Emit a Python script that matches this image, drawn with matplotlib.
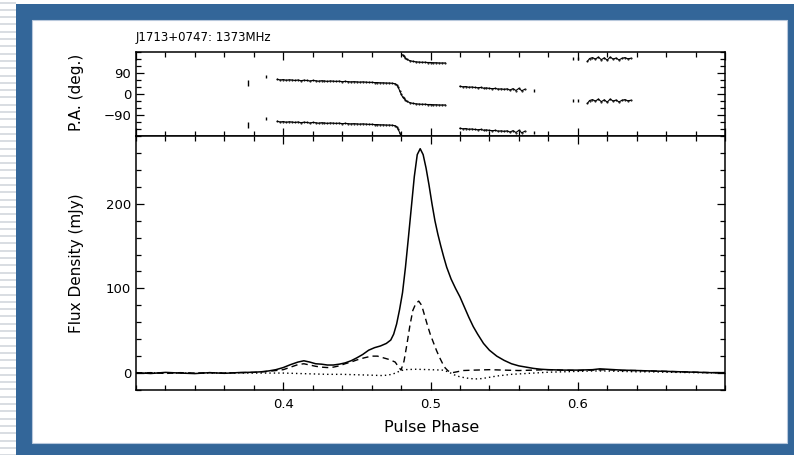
import numpy as np
import matplotlib
matplotlib.use("Agg")
import matplotlib.pyplot as plt
from matplotlib.patches import Rectangle
from matplotlib.ticker import MultipleLocator

plt.rcParams['font.family'] = ['DejaVu Sans']

# ---------------- data ----------------
title = "J1713+0747: 1373MHz"

# Total intensity (solid)
i_phase = [0.300, 0.310, 0.320, 0.330, 0.340, 0.350, 0.360, 0.370, 0.380, 0.385,
           0.390, 0.395, 0.400, 0.405, 0.410, 0.414, 0.418, 0.422, 0.426, 0.430,
           0.434, 0.438, 0.442, 0.446, 0.450, 0.454, 0.458, 0.462, 0.466, 0.470,
           0.473, 0.475, 0.477, 0.479, 0.481, 0.483, 0.485, 0.487, 0.489, 0.491,
           0.493, 0.495, 0.497, 0.499, 0.501, 0.503, 0.505, 0.507, 0.509, 0.511,
           0.514, 0.517, 0.520, 0.523, 0.526, 0.529, 0.532, 0.536, 0.540, 0.545,
           0.550, 0.555, 0.560, 0.565, 0.570, 0.575, 0.580, 0.590, 0.600, 0.610,
           0.615, 0.620, 0.630, 0.640, 0.650, 0.660, 0.670, 0.680, 0.690, 0.700]
i_flux = [0.5, -0.5, 0.8, 0.0, -0.6, 0.5, -0.3, 0.6, 1.0, 1.5,
          2.5, 4.0, 6.5, 10.0, 13.0, 14.5, 13.0, 11.0, 10.5, 9.5,
          9.5, 10.5, 12.0, 14.5, 18.0, 22.0, 27.0, 30.0, 32.0, 35.0,
          39.0, 46.0, 58.0, 75.0, 95.0, 125.0, 160.0, 196.0, 232.0, 258.0,
          265.0, 258.0, 242.0, 222.0, 200.0, 180.0, 164.0, 150.0, 137.0, 125.0,
          111.0, 100.0, 90.0, 78.0, 66.0, 55.0, 46.0, 35.0, 27.0, 20.0,
          15.0, 11.0, 8.5, 7.0, 5.5, 4.5, 4.0, 3.5, 3.5, 4.0,
          5.0, 4.5, 3.5, 3.0, 2.5, 2.0, 1.5, 1.0, 0.5, 0.5]

# Linear polarisation (dashed)
l_phase = [0.300, 0.310, 0.320, 0.330, 0.340, 0.350, 0.360, 0.370, 0.380, 0.390,
           0.400, 0.405, 0.410, 0.414, 0.418, 0.422, 0.426, 0.430, 0.434, 0.438,
           0.442, 0.446, 0.450, 0.455, 0.460, 0.464, 0.468, 0.472, 0.476, 0.478,
           0.480, 0.482, 0.484, 0.486, 0.488, 0.490, 0.492, 0.494, 0.496, 0.498,
           0.500, 0.502, 0.504, 0.506, 0.508, 0.510, 0.512, 0.515, 0.518, 0.522,
           0.530, 0.540, 0.550, 0.560, 0.570, 0.580, 0.590, 0.600, 0.610, 0.620,
           0.630, 0.640, 0.650, 0.660, 0.670, 0.680, 0.690, 0.700]
l_flux = [0.0, 0.5, -0.5, 0.5, 0.0, 0.5, 0.0, 0.5, 0.8, 2.0,
          4.0, 7.0, 10.0, 11.0, 9.5, 8.0, 7.0, 6.5, 7.0, 8.5,
          11.0, 13.0, 15.5, 18.0, 20.0, 20.0, 18.0, 16.0, 13.0, 8.0,
          3.5, 14.0, 34.0, 56.0, 74.0, 82.0, 85.0, 80.0, 68.0, 56.0,
          45.0, 36.0, 27.0, 19.0, 12.0, 6.0, 2.5, 0.5, 1.5, 3.0,
          3.5, 4.0, 3.5, 3.0, 3.5, 4.0, 3.5, 3.0, 3.5, 4.0,
          3.0, 3.0, 2.5, 2.0, 1.5, 1.0, 0.5, 0.5]

# Circular polarisation (dotted)
v_phase = [0.300, 0.320, 0.340, 0.360, 0.380, 0.400, 0.410, 0.420, 0.430, 0.440,
           0.450, 0.460, 0.468, 0.474, 0.478, 0.482, 0.490, 0.500, 0.508, 0.512,
           0.516, 0.520, 0.525, 0.530, 0.535, 0.540, 0.545, 0.550, 0.555, 0.560,
           0.570, 0.580, 0.590, 0.600, 0.610, 0.620, 0.630, 0.640, 0.650, 0.660,
           0.680, 0.700]
v_flux = [0.0, 0.3, -0.3, 0.2, 0.0, 0.0, -0.5, -1.0, -1.5, -1.5,
          -2.0, -2.5, -3.0, -1.5, 1.5, 4.0, 4.5, 4.0, 3.5, 1.5,
          -2.0, -4.5, -6.0, -7.0, -6.5, -5.0, -3.5, -2.5, -1.5, -1.0,
          0.0, 1.0, 1.5, 2.0, 2.5, 2.5, 2.0, 1.5, 1.5, 1.0,
          0.5, 0.0]

# Position angle (deg), plotted together with its 180-deg ambiguity
pa_phase = [0.396, 0.398, 0.400, 0.402, 0.404, 0.406, 0.408, 0.410, 0.412, 0.414,
            0.416, 0.418, 0.420, 0.422, 0.424, 0.426, 0.428, 0.430, 0.432, 0.434,
            0.436, 0.438, 0.440, 0.442, 0.444, 0.446, 0.448, 0.450, 0.452, 0.454,
            0.456, 0.458, 0.460, 0.462, 0.464, 0.466, 0.468, 0.470, 0.472, 0.474,
            0.476, 0.477, 0.478, 0.479, 0.480, 0.481,
            0.482, 0.483, 0.484, 0.486, 0.488, 0.490, 0.492, 0.494, 0.496, 0.498,
            0.500, 0.502, 0.504, 0.506, 0.508, 0.510,
            0.520, 0.522, 0.524, 0.526, 0.528, 0.530, 0.532, 0.534, 0.536, 0.538,
            0.540, 0.542, 0.544, 0.546, 0.548, 0.550, 0.552, 0.554, 0.556, 0.558,
            0.560, 0.562, 0.564,
            0.6066, 0.608, 0.610, 0.612, 0.614, 0.616, 0.618, 0.620, 0.622, 0.624,
            0.626, 0.628, 0.630, 0.632, 0.634, 0.636]
pa_deg = [63, 60, 62, 59, 61, 60, 58, 60, 57, 59,
          58, 56, 58, 57, 55, 57, 56, 54, 56, 55,
          54, 55, 53, 54, 53, 52, 53, 52, 51, 52,
          51, 50, 50, 49, 49, 48, 48, 47, 47, 46,
          44, 40, 30, 15, 0, -12,
          -18, -26, -32, -37, -40, -42, -43, -44, -44, -45,
          -45, -46, -46, -47, -47, -47,
          33, 31, 32, 29, 30, 28, 27, 28, 25, 26,
          24, 23, 24, 21, 22, 20, 22, 17, 23, 15,
          24, 14, 20,
          -40, -28, -24, -30, -22, -33, -25, -35, -22, -30,
          -26, -34, -27, -24, -29, -27]

# isolated PA points with their error bars
pa_iso_phase = [0.376, 0.388, 0.570, 0.597, 0.600]
pa_iso_deg = [47, 75, 14, -28, -28]
pa_iso_err = [11, 7, 6, 6, 6]

# ---------------- figure ----------------
W, H = 794, 455
fig = plt.figure(figsize=(W / 100, H / 100), dpi=100)
fig.patch.set_facecolor('white')


def rect_px(x0, y0, x1, y1, **kw):
    r = Rectangle((x0 / W, 1 - y1 / H), (x1 - x0) / W, (y1 - y0) / H,
                  transform=fig.transFigure, **kw)
    fig.add_artist(r)


# striped left margin
yy = 1.5
while yy < H:
    rect_px(0, yy, 16, yy + 2.0, facecolor='#d9dde2', edgecolor='none', zorder=0)
    yy += 7.3
# blue frame and white panel
rect_px(16, 4, W, H, facecolor='#336699', edgecolor='none', zorder=0)
rect_px(32, 20, 787, 443, facecolor='white', edgecolor='#b8c8dc', linewidth=0.8, zorder=0)


def ax_px(x0, y0, x1, y1):
    return fig.add_axes([x0 / W, 1 - y1 / H, (x1 - x0) / W, (y1 - y0) / H])


ax_pa = ax_px(136, 52, 725, 136)
ax_i = ax_px(136, 136, 725, 390)

for ax in (ax_pa, ax_i):
    ax.set_facecolor('white')
    for s in ax.spines.values():
        s.set_linewidth(1.1)
        s.set_color('black')
    ax.tick_params(which='both', direction='in', top=True, right=True,
                   width=0.9, colors='black', labelsize=9.5)
    ax.tick_params(which='major', length=6)
    ax.tick_params(which='minor', length=3.5)
    ax.set_xlim(0.3, 0.7)
    ax.xaxis.set_major_locator(MultipleLocator(0.1))
    ax.xaxis.set_minor_locator(MultipleLocator(0.02))

# ---- PA panel ----
pa_arr = np.array(pa_deg, dtype=float)
ph_arr = np.array(pa_phase, dtype=float)
alt = np.where(pa_arr < 0, pa_arr + 180, pa_arr - 180)
for yv in (pa_arr, alt):
    xs, ys = [], []
    for k in range(len(ph_arr)):
        if k > 0 and (ph_arr[k] - ph_arr[k - 1] > 0.003 or abs(yv[k] - yv[k - 1]) > 60):
            xs.append(np.nan)
            ys.append(np.nan)
        xs.append(ph_arr[k])
        ys.append(yv[k])
    ax_pa.plot(xs, ys, color='black', lw=0.8, marker='.', ms=1.0)

iso = np.array(pa_iso_deg, dtype=float)
iso_alt = np.where(iso < 0, iso + 180, iso - 180)
for yv in (iso, iso_alt):
    ax_pa.errorbar(pa_iso_phase, yv, yerr=pa_iso_err, fmt='none',
                   ecolor='black', elinewidth=1.0, capsize=0)

ax_pa.set_ylim(-180, 180)
ax_pa.yaxis.set_major_locator(MultipleLocator(90))
ax_pa.yaxis.set_minor_locator(MultipleLocator(30))
ax_pa.set_yticks([-90, 0, 90])
ax_pa.set_yticklabels(['\u221290', '0', '90'])
ax_pa.tick_params(axis='x', labelbottom=False)

# ---- Flux panel ----
ax_i.plot(i_phase, i_flux, color='black', lw=1.1)
ax_i.plot(l_phase, l_flux, color='black', lw=1.0, linestyle=(0, (4.5, 3.0)))
ax_i.plot(v_phase, v_flux, color='black', lw=1.0, linestyle=(0, (1.0, 2.2)))
ax_i.set_ylim(-20, 280)
ax_i.yaxis.set_major_locator(MultipleLocator(100))
ax_i.yaxis.set_minor_locator(MultipleLocator(20))
ax_i.set_yticks([0, 100, 200])
ax_i.set_xticks([0.4, 0.5, 0.6])
ax_i.set_xticklabels(['0.4', '0.5', '0.6'])
ax_i.xaxis.set_minor_locator(MultipleLocator(0.02))
ax_i.tick_params(axis='x', pad=6)

# ---- texts ----
fig.text(136 / W, 1 - 37 / H, title, ha='left', va='center', fontsize=8.5)
fig.text(76 / W, 1 - 92 / H, 'P.A. (deg.)', rotation=90, ha='center', va='center', fontsize=11)
fig.text(76 / W, 1 - 263 / H, 'Flux Density (mJy)', rotation=90, ha='center', va='center', fontsize=11)
fig.text(432 / W, 1 - 428 / H, 'Pulse Phase', ha='center', va='center', fontsize=11.5)

fig.savefig('out.png', dpi=100)
